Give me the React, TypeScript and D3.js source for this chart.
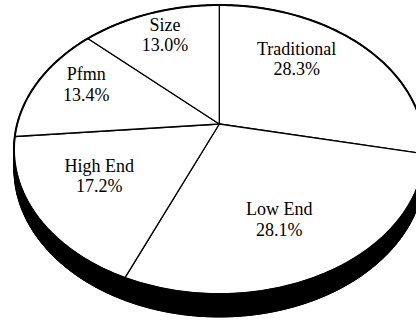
import React from "react";
import * as d3 from "d3";

// Segment shares, drawn clockwise from 12 o'clock
const segments = ["Traditional", "Low End", "High End", "Pfmn", "Size"];
const shares = [28.3, 28.1, 17.2, 13.4, 13.0];
const shareLabels = ["28.3%", "28.1%", "17.2%", "13.4%", "13.0%"];

const WIDTH = 416;
const HEIGHT = 321;

// Perspective view of a tilted disc: centre, half-axes, foreshortening and thickness
const CX = 219.3;
const CY = 124;
const AX = 202.1;
const BY = 140;
const PERSP = 0.1765;
const THICK = 18.9;

// Label anchor radius and per-label text offsets (px)
const LABEL_R = 0.6;
const labelShift: [number, number][] = [
  [-10.9, -19.6],
  [-2, 8.8],
  [-15.4, -4.9],
  [-22.2, -17.6],
  [-10.4, -23.2],
];
const FONT = "'Liberation Serif', 'Times New Roman', serif";
const FONT_SIZE = 18;
const LINE_GAP = 20.7;

function project(angle: number, r: number, drop = 0): [number, number] {
  const u = r * Math.sin(angle);
  const v = -r * Math.cos(angle);
  const w = 1 - PERSP * v;
  return [CX + (AX * u) / w, CY + (BY * v + drop) / w];
}

const line = d3.line<[number, number]>();

function rimPoints(a0: number, a1: number, drop = 0): [number, number][] {
  const n = Math.max(2, Math.ceil(((a1 - a0) / (2 * Math.PI)) * 360));
  const pts: [number, number][] = [];
  for (let i = 0; i <= n; i++) {
    pts.push(project(a0 + ((a1 - a0) * i) / n, 1, drop));
  }
  return pts;
}

export default function App() {
  const pie = d3
    .pie<number>()
    .sort(null)
    .value((d) => d)
    .startAngle(0)
    .endAngle(2 * Math.PI);
  const arcs = pie(shares);

  // Side wall built from thin quads between top rim and dropped rim
  const steps = 360;
  const wallParts: string[] = [];
  for (let i = 0; i < steps; i++) {
    const t0 = (i / steps) * 2 * Math.PI;
    const t1 = ((i + 1) / steps) * 2 * Math.PI;
    const quad = [
      project(t0, 1),
      project(t1, 1),
      project(t1, 1, THICK),
      project(t0, 1, THICK),
    ] as [number, number][];
    wallParts.push(line(quad) + "Z");
  }
  const bottomRim = line(rimPoints(0, 2 * Math.PI, THICK)) + "Z";

  const apex = project(0, 0);

  return (
    <svg
      width={WIDTH}
      height={HEIGHT}
      style={{ position: "absolute", left: 0, top: 0, background: "#fff" }}
    >
      <path d={bottomRim} fill="#000" stroke="#000" strokeWidth={1} />
      <path d={wallParts.join("")} fill="#000" stroke="#000" strokeWidth={0.8} />
      {arcs.map((a, i) => {
        const pts: [number, number][] = [apex, ...rimPoints(a.startAngle, a.endAngle)];
        return (
          <path
            key={segments[i]}
            d={line(pts) + "Z"}
            fill="#fff"
            stroke="#000"
            strokeWidth={1.3}
            strokeLinejoin="round"
          />
        );
      })}
      <path
        d={line(rimPoints(0, 2 * Math.PI)) + "Z"}
        fill="none"
        stroke="#000"
        strokeWidth={2}
      />
      {arcs.map((a, i) => {
        const mid = (a.startAngle + a.endAngle) / 2;
        const [x, y] = project(mid, LABEL_R);
        const tx = x + labelShift[i][0];
        const ty = y + labelShift[i][1];
        return (
          <text
            key={"l" + i}
            x={tx}
            y={ty}
            textAnchor="middle"
            fontFamily={FONT}
            fontSize={FONT_SIZE}
            fill="#000"
          >
            <tspan x={tx}>{segments[i]}</tspan>
            <tspan x={tx} dy={LINE_GAP}>
              {shareLabels[i]}
            </tspan>
          </text>
        );
      })}
    </svg>
  );
}
